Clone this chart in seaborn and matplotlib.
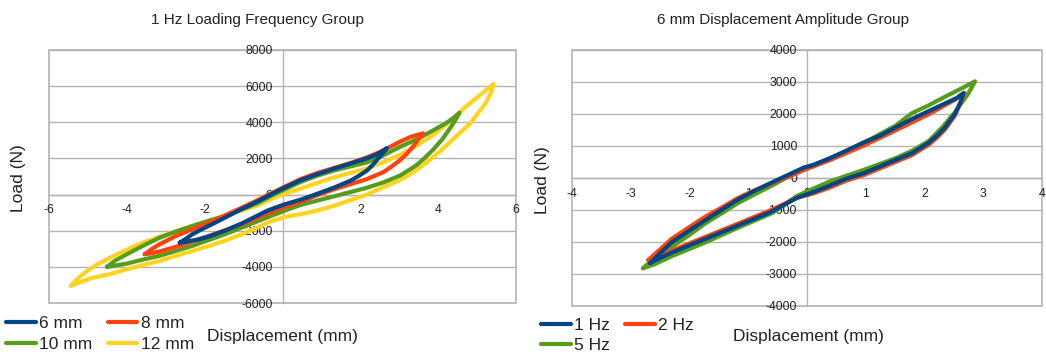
import numpy as np
import pandas as pd
import matplotlib
matplotlib.use("Agg")
import matplotlib.pyplot as plt
from matplotlib.patches import Rectangle
import seaborn as sns

# ---------------- data: left panel (1 Hz, various amplitudes) ----------------
amp_labels = ["6 mm", "8 mm", "10 mm", "12 mm"]

mm6_up_x = [-2.64, -2.45, -2.32, -2.1, -1.9, -1.48, -1.05, -0.63, -0.3, 0.04, 0.47, 0.9, 1.32, 1.75, 2.17, 2.45, 2.68]
mm6_up_y = [-2660, -2400, -2200, -1950, -1740, -1280, -800, -370, 0, 370, 800, 1130, 1430, 1720, 2000, 2250, 2570]
mm6_lo_x = [2.6, 2.5, 2.42, 2.3, 2.17, 1.95, 1.74, 1.32, 0.9, 0.47, 0.04, -0.38, -0.63, -1.05, -1.48, -1.9, -2.15, -2.45, -2.64]
mm6_lo_y = [2350, 2100, 1900, 1600, 1330, 1020, 760, 380, 50, -280, -550, -880, -1150, -1600, -2000, -2330, -2480, -2600, -2660]

mm8_up_x = [-3.54, -3.35, -3.16, -2.74, -2.32, -1.9, -1.48, -1.05, -0.63, -0.3, 0.04, 0.47, 0.9, 1.32, 1.75, 2.17, 2.6, 3.02, 3.3, 3.61]
mm8_up_y = [-3300, -3000, -2750, -2290, -1920, -1560, -1150, -730, -300, 60, 420, 860, 1200, 1470, 1750, 2060, 2450, 2930, 3200, 3390]
mm8_lo_x = [3.5, 3.36, 3.2, 3.02, 2.8, 2.59, 2.17, 1.74, 1.32, 0.9, 0.47, 0.04, -0.21, -0.63, -1.05, -1.48, -1.9, -2.3, -2.66, -3.16, -3.4, -3.54]
mm8_lo_y = [3100, 2670, 2280, 1900, 1550, 1240, 860, 570, 290, -30, -400, -700, -900, -1270, -1650, -1980, -2290, -2580, -2840, -3150, -3260, -3300]

mm10_up_x = [-4.51, -4.3, -4.0, -3.59, -3.16, -2.74, -2.32, -1.9, -1.48, -1.05, -0.63, -0.3, 0.04, 0.47, 0.9, 1.32, 1.75, 2.17, 2.6, 3.02, 3.44, 3.87, 4.2, 4.4, 4.55]
mm10_up_y = [-4000, -3650, -3300, -2840, -2390, -2050, -1740, -1450, -1190, -830, -460, -80, 270, 700, 1050, 1330, 1560, 1780, 2180, 2640, 3050, 3550, 3950, 4250, 4530]
mm10_lo_x = [4.45, 4.29, 4.1, 3.87, 3.65, 3.44, 3.02, 2.59, 2.17, 1.75, 1.32, 0.9, 0.47, 0.04, -0.63, -1.05, -1.48, -1.9, -2.32, -2.74, -3.16, -3.59, -4.0, -4.3, -4.51]
mm10_lo_y = [4150, 3620, 3050, 2480, 2020, 1620, 1050, 670, 380, 140, -100, -330, -570, -900, -1470, -1830, -2200, -2520, -2840, -3120, -3390, -3600, -3820, -3930, -4000]

mm12_up_x = [-5.44, -5.25, -5.02, -4.75, -4.43, -4.0, -3.59, -3.16, -2.74, -2.32, -1.9, -1.48, -1.05, -0.63, -0.3, 0.04, 0.47, 0.9, 1.32, 1.75, 2.17, 2.6, 3.02, 3.44, 3.87, 4.3, 4.7, 5.1, 5.42]
mm12_up_y = [-5050, -4620, -4220, -3850, -3490, -3050, -2660, -2330, -2020, -1740, -1470, -1170, -880, -580, -250, 50, 330, 650, 950, 1200, 1450, 1800, 2200, 2700, 3300, 4050, 4850, 5550, 6120]
mm12_lo_x = [5.35, 5.2, 5.0, 4.83, 4.55, 4.3, 4.05, 3.8, 3.44, 3.02, 2.6, 2.17, 1.75, 1.32, 0.9, 0.47, 0.04, -0.3, -0.63, -1.05, -1.48, -1.9, -2.32, -2.74, -3.16, -3.59, -4.0, -4.43, -4.85, -5.15, -5.44]
mm12_lo_y = [5600, 5000, 4450, 3950, 3400, 2900, 2400, 1950, 1350, 800, 420, 0, -300, -620, -880, -1080, -1250, -1480, -1800, -2200, -2550, -2850, -3120, -3390, -3670, -3900, -4130, -4400, -4590, -4800, -5050]

# ---------------- data: right panel (6 mm, various frequencies) ----------------
freq_labels = ["1 Hz", "2 Hz", "5 Hz"]

hz1_up_x = [-2.67, -2.5, -2.31, -2.0, -1.74, -1.45, -1.18, -0.9, -0.61, -0.33, -0.05, 0.11, 0.39, 0.67, 0.95, 1.23, 1.51, 1.79, 2.07, 2.35, 2.55, 2.66]
hz1_up_y = [-2660, -2350, -2020, -1640, -1330, -990, -680, -410, -150, 90, 330, 410, 620, 854, 1100, 1313, 1580, 1846, 2090, 2330, 2500, 2650]
hz1_lo_x = [2.62, 2.52, 2.35, 2.21, 2.07, 1.79, 1.51, 1.23, 0.95, 0.67, 0.39, 0.11, -0.17, -0.61, -1.18, -1.74, -2.0, -2.31, -2.5, -2.67]
hz1_lo_y = [2400, 2006, 1580, 1320, 1100, 780, 566, 352, 139, -21, -235, -440, -620, -1060, -1490, -1910, -2100, -2340, -2500, -2660]

hz2_up_x = [-2.7, -2.5, -2.31, -2.0, -1.74, -1.45, -1.18, -0.9, -0.61, -0.33, -0.05, 0.39, 0.95, 1.51, 2.07, 2.52, 2.68]
hz2_up_y = [-2560, -2230, -1910, -1530, -1220, -920, -630, -390, -170, 30, 250, 560, 1000, 1490, 1990, 2450, 2660]
hz2_lo_x = [2.6, 2.52, 2.35, 2.21, 2.07, 1.79, 1.51, 1.23, 0.95, 0.67, 0.39, 0.11, -0.17, -0.61, -1.18, -1.74, -2.0, -2.31, -2.5, -2.7]
hz2_lo_y = [2300, 1960, 1520, 1260, 1040, 720, 506, 292, 80, -80, -295, -480, -620, -1000, -1430, -1850, -2040, -2280, -2420, -2560]

hz5_up_x = [-2.79, -2.6, -2.31, -2.0, -1.74, -1.45, -1.18, -0.9, -0.61, -0.33, -0.05, 0.39, 0.95, 1.51, 1.79, 2.07, 2.35, 2.63, 2.86]
hz5_up_y = [-2820, -2500, -2160, -1780, -1430, -1100, -790, -520, -250, 30, 300, 600, 1080, 1640, 2030, 2270, 2540, 2800, 3020]
hz5_lo_x = [2.75, 2.52, 2.3, 2.07, 1.79, 1.51, 1.23, 0.95, 0.67, 0.39, 0.11, -0.17, -0.61, -1.18, -1.74, -2.31, -2.6, -2.79]
hz5_lo_y = [2650, 2060, 1580, 1150, 854, 620, 430, 245, 70, -107, -330, -560, -1110, -1560, -2020, -2450, -2700, -2820]

# ---------------- style ----------------
sns.set_style("white")
plt.rcParams["font.family"] = ["Liberation Sans", "DejaVu Sans"]

BLUE, ORANGE, YELLOW, GREEN = "#004586", "#ff420e", "#ffd320", "#579d1c"
GRID = "#b3b3b3"
TXT = "#222222"

fig = plt.figure(figsize=(10.46, 3.54), dpi=100)
W, H = 1046.0, 354.0
axL = fig.add_axes([49 / W, 1 - 303 / H, 467 / W, 253 / H])
axR = fig.add_axes([572 / W, 1 - 306 / H, 470 / W, 256 / H])


def loop(ux, uy, lx, ly):
    return list(ux) + list(lx), list(uy) + list(ly)


left_series = [
    (amp_labels[0], loop(mm6_up_x, mm6_up_y, mm6_lo_x, mm6_lo_y), BLUE),
    (amp_labels[1], loop(mm8_up_x, mm8_up_y, mm8_lo_x, mm8_lo_y), ORANGE),
    (amp_labels[2], loop(mm10_up_x, mm10_up_y, mm10_lo_x, mm10_lo_y), GREEN),
    (amp_labels[3], loop(mm12_up_x, mm12_up_y, mm12_lo_x, mm12_lo_y), YELLOW),
]
right_series = [
    (freq_labels[0], loop(hz1_up_x, hz1_up_y, hz1_lo_x, hz1_lo_y), BLUE),
    (freq_labels[1], loop(hz2_up_x, hz2_up_y, hz2_lo_x, hz2_lo_y), ORANGE),
    (freq_labels[2], loop(hz5_up_x, hz5_up_y, hz5_lo_x, hz5_lo_y), GREEN),
]


def draw(ax, series):
    for name, (xs, ys), col in reversed(series):
        sns.lineplot(x=xs, y=ys, sort=False, estimator=None, color=col, lw=3.0,
                     label=name, ax=ax, solid_joinstyle="round", solid_capstyle="round")
    if ax.get_legend() is not None:
        ax.get_legend().remove()
    h, l = ax.get_legend_handles_labels()
    return h[::-1], l[::-1]


def style(ax, xlim, xticks, ylim, yticks):
    ax.set_xlim(*xlim)
    ax.set_ylim(*ylim)
    ax.set_xticks(xticks)
    ax.set_yticks(yticks)
    ax.set_xticklabels([f"{t:g}" for t in xticks])
    ax.set_yticklabels([f"{t:g}" for t in yticks])
    ax.spines["left"].set_position(("data", 0))
    ax.spines["bottom"].set_position(("data", 0))
    ax.spines["top"].set_visible(False)
    ax.spines["right"].set_visible(False)
    for s in ("left", "bottom"):
        ax.spines[s].set_color(GRID)
        ax.spines[s].set_linewidth(1.0)
        ax.spines[s].set_zorder(0.5)
    ax.yaxis.grid(True, color=GRID, lw=1.0, zorder=0)
    ax.xaxis.grid(False)
    ax.set_axisbelow(True)
    ax.tick_params(axis="both", which="major", direction="out", length=4, width=1,
                   color=GRID, labelsize=8.8, labelcolor=TXT, pad=3)
    ax.add_patch(Rectangle((0, 0), 1, 1, transform=ax.transAxes, fill=False,
                           ec=GRID, lw=1.2, zorder=0.4, clip_on=False))
    ax.set_xlabel("")
    ax.set_ylabel("")


hL, lL = draw(axL, left_series)
hR, lR = draw(axR, right_series)

style(axL, (-6, 6), [-6, -4, -2, 0, 2, 4, 6], (-6000, 8000),
      [-6000, -4000, -2000, 0, 2000, 4000, 6000, 8000])
style(axR, (-4, 4), [-4, -3, -2, -1, 0, 1, 2, 3, 4], (-4000, 4000),
      [-4000, -3000, -2000, -1000, 0, 1000, 2000, 3000, 4000])

# titles
fig.text(257 / W, 1 - 20 / H, "1 Hz Loading Frequency Group", ha="center", va="center",
         fontsize=11, color=TXT)
fig.text(783 / W, 1 - 20 / H, "6 mm Displacement Amplitude Group", ha="center", va="center",
         fontsize=11, color=TXT)

# axis labels
fig.text(18 / W, 1 - 178 / H, "Load (N)", rotation=90, ha="center", va="center",
         fontsize=12.5, color=TXT)
fig.text(542 / W, 1 - 180 / H, "Load (N)", rotation=90, ha="center", va="center",
         fontsize=12.5, color=TXT)
fig.text(282 / W, 1 - 336 / H, "Displacement (mm)", ha="center", va="center",
         fontsize=12.5, color=TXT)
fig.text(808 / W, 1 - 337 / H, "Displacement (mm)", ha="center", va="center",
         fontsize=12.5, color=TXT)

# legends: row-wise order like the reference (column-major fill in matplotlib)
legkw = dict(loc="center left", ncol=2, frameon=False, fontsize=12.5, borderpad=0,
             borderaxespad=0, handlelength=1.7, handletextpad=0.2, columnspacing=0.9,
             labelspacing=0.3, labelcolor=TXT)
ordL = [0, 2, 1, 3]
fig.legend([hL[i] for i in ordL], [lL[i] for i in ordL],
           bbox_to_anchor=(6 / W, 1 - 334 / H), **legkw)
ordR = [0, 2, 1]
fig.legend([hR[i] for i in ordR], [lR[i] for i in ordR],
           bbox_to_anchor=(541 / W, 1 - 335.5 / H), **legkw)

fig.savefig("out.png", dpi=100)
